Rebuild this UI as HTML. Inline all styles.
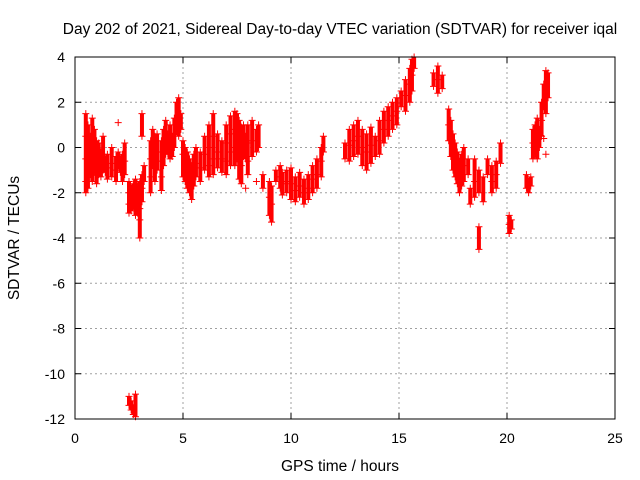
<!DOCTYPE html>
<html><head><meta charset="utf-8">
<style>
body{margin:0;background:#fff;}
svg{display:block;font-family:"Liberation Sans",sans-serif;}
</style></head>
<body>
<svg id="chart" width="640" height="480">
<rect width="640" height="480" fill="#fff"/>
<text x="340" y="34" font-size="15.5" text-anchor="middle">Day 202 of 2021, Sidereal Day-to-day VTEC variation (SDTVAR) for receiver iqal</text>
<text x="340" y="471" font-size="15.5" text-anchor="middle">GPS time / hours</text>
<text transform="translate(19,238) rotate(-90)" font-size="15.5" text-anchor="middle">SDTVAR / TECUs</text>
<g id="grid"></g>
<g id="marks"></g>
<rect x="75" y="57" width="540" height="362" fill="none" stroke="#000" stroke-width="1"/>
</svg>
<script>
const xTicks=[0,5,10,15,20,25];
const yTicks=[4,2,0,-2,-4,-6,-8,-10,-12];
const times=[0.5,0.6,0.7,0.8,0.9,1.0,1.1,1.2,1.3,1.4,1.5,1.7,1.9,2.0,2.1,2.2,2.3,2.5,2.6,2.7,2.8,2.9,3.0,3.1,3.2,3.5,3.6,3.7,3.8,4.0,4.1,4.2,4.3,4.4,4.5,4.6,4.7,4.8,4.9,5.0,5.1,5.2,5.3,5.4,5.5,5.6,5.8,6.0,6.2,6.4,6.6,6.8,7.0,7.2,7.4,7.5,7.6,7.7,7.8,7.9,8.0,8.2,8.4,8.5,8.7,9.0,9.1,9.3,9.5,9.6,9.8,10.0,10.2,10.4,10.6,10.8,11.0,11.2,11.4,11.5,12.5,12.7,12.9,13.1,13.3,13.5,13.7,13.9,14.1,14.3,14.5,14.7,14.9,15.1,15.3,15.5,15.6,15.7,16.6,16.8,17.0,17.3,17.4,17.5,17.6,17.7,17.8,17.9,18.0,18.2,18.3,18.5,18.7,18.9,19.1,19.3,19.5,19.7,20.1,20.2,20.9,21.0,21.1,21.2,21.3,21.4,21.5,21.6,21.7,21.8,21.9];
const values=[[1.5,0.5,-0.5,-1.5,-2],[1,0,-1,-1.8],[0.5,-0.5,-1.2],[1.3,0.2,-0.8,-1.5],[0.8,-0.3,-1.1],[0.3,-0.6,-1.6],[0.2,-0.4,-1.2],[-0.2,-0.8,-1.3],[0.5,-0.3,-1],[-0.5,-1.1],[-0.3,-0.9,-1.4],[0,-0.7,-1.3],[-0.4,-1,-1.5],[1.1,-0.2,-0.8],[-0.5,-1.1],[-0.3,-0.9,-1.5],[0.2,-0.6,-1.2],[-1.5,-2,-2.5,-2.9,-11,-11.4],[-1.8,-2.3,-2.8,-11.2,-11.6],[-1.6,-2.2,-2.6,-11.5,-11.8],[-1.4,-2,-2.5,-3,-10.9,-11.9],[-1.7,-2.4,-2.9],[-1.5,-2.1,-2.7,-3.2,-4],[1.5,0.5,-1.2,-1.8,-2.4],[-0.8,-1.5],[0.3,-0.5,-1.3,-2],[0.8,0,-0.8],[0.5,-0.3,-1.5],[0.6,-0.2,-1],[0.3,-0.6,-1.3,-1.9],[0.8,0,-0.8],[1.2,0.4,-0.3],[0.6,-0.3],[1,0.2,-0.5],[0.5,-0.4],[1.3,0.6,0],[2,1.2,0.7],[2.2,1.4,0.5],[1.5,0.8],[0.3,-0.3,-1.3],[0,-0.7,-1.5],[-0.2,-1,-1.8],[-0.5,-1.3,-2],[-0.8,-1.6,-2.3],[-0.3,-1,-1.7],[0,-0.7,-1.3],[-0.2,-0.9,-1.5],[0.5,-0.3,-1],[1,0,-0.8,-1.3],[1.5,0.5,-0.5,-1.2],[0.6,-0.2,-0.9],[0.3,-0.5,-1.1],[1,0.2,-0.6,-1.2],[1.4,0.6,-0.2,-0.8],[1.6,0.8,0,-0.8],[1.5,0.5,-0.5],[1.2,0.2,-0.5,-1.4],[0.9,0,-0.8,-1.6],[1,0.3,-0.4],[0.5,-0.5,-1.8],[1,0.2,-0.6,-1.2],[1.2,0.3,-0.4],[0.8,-0.2,-1.5],[1,0],[-1.2,-1.8],[-1.5,-2.2,-3],[-1.7,-2.5,-3.3],[-1,-1.5],[-0.8,-1.3,-1.8],[-1.1,-1.6,-2.1],[-1,-1.5,-2],[-0.9,-1.6,-2.3],[-1.3,-1.9,-2.4],[-1.1,-1.7,-2.2],[-1.4,-2,-2.5],[-1.2,-1.8,-2.3],[-0.8,-1.4,-2],[-0.5,-1.2,-1.8],[0,-0.6,-1.3],[0.5,-0.2],[0.2,-0.5],[0.8,0.1,-0.6],[1,0.3,-0.4],[1.2,0.5,-0.3],[0.8,0,-0.8],[0.6,-0.2,-1],[0.9,0.1,-0.7],[0.5,-0.4],[1.2,0.3,-0.3],[1.6,0.8,0.2],[1.8,1.2,0.5],[2,1.4,0.8],[2.2,1.6,1],[2.5,1.8],[3,2.3,1.6],[3.5,2.8,2],[3.9,3.2,2.5],[4,3.5],[3.3,2.7],[3.6,3,2.4],[3.2,2.6],[1.7,1,0.3],[1.2,0.4,-0.4],[0.6,-0.2,-1],[0.2,-0.5,-1.3],[-0.2,-0.9,-1.6],[-0.6,-1.3,-2],[-0.3,-1,-1.7],[0,-0.8,-1.5],[-0.5,-1.2],[-1.8,-2.5],[-0.5,-1.5,-2.2],[-1,-2,-3.5,-4.5],[-1.3,-2.4],[-0.5,-1.2],[-0.8,-1.5,-2],[-0.6,-1.2,-1.8],[0.2,-0.7],[-3,-3.4,-3.8],[-3.2,-3.6],[-1.2,-1.8],[-1.5,-2],[-1.3,-1.7],[-0.5,0.2,0.8],[1,0.5,-0.3],[1.3,0.6,-0.5],[0.8,0],[2,1.2,0.5],[2.8,1.8,0.4],[3.4,2.5,1.5,-0.3],[3.3,2.2]];
const X0=75,X1=615,Y0=57,Y1=419;
function xs(t){return X0+(t-0)/(25-0)*(X1-X0);}
function ys(v){return Y0+(4-v)/(4-(-12))*(Y1-Y0);}
const NS="http://www.w3.org/2000/svg";
const grid=document.getElementById('grid'),marks=document.getElementById('marks');
function mk(tag,attrs,parent){const e=document.createElementNS(NS,tag);for(const k in attrs)e.setAttribute(k,attrs[k]);parent.appendChild(e);return e;}
xTicks.forEach(t=>{
  const x=xs(t);
  if(t>0&&t<25){const g=mk('line',{x1:x,x2:x,y1:Y0,y2:Y1,stroke:'#a0a0a0','stroke-dasharray':'2,3'},grid);
  
  }
  mk('line',{x1:x,x2:x,y1:Y1,y2:Y1-6,stroke:'#000'},grid);
  mk('line',{x1:x,x2:x,y1:Y0,y2:Y0+6,stroke:'#000'},grid);
  const l=mk('text',{x:x,y:Y1+24,'font-size':14,'text-anchor':'middle'},grid);l.textContent=t;
  
  
});
yTicks.forEach(v=>{
  const y=ys(v);
  if(v<4&&v>-12){const g=mk('line',{x1:X0,x2:X1,y1:y,y2:y,stroke:'#a0a0a0','stroke-dasharray':'2,3'},grid);
  
  }
  mk('line',{x1:X0,x2:X0+6,y1:y,y2:y,stroke:'#000'},grid);
  mk('line',{x1:X1,x2:X1-6,y1:y,y2:y,stroke:'#000'},grid);
  const l=mk('text',{x:X0-10,y:y+5,'font-size':14,'text-anchor':'end'},grid);l.textContent=v;
  
  
});
times.forEach((t,i)=>{
  const x=xs(t);const vs=values[i];
  for(let j=0;j<vs.length-1;j++){
    if(Math.abs(vs[j]-vs[j+1])<1.3){
      const b=mk('line',{x1:x,x2:x,y1:ys(vs[j]),y2:ys(vs[j+1]),stroke:'#ff0000','stroke-width':4},marks);
      
      
    }
  }
  vs.forEach(v=>{
    const y=ys(v);
    const p=mk('path',{d:`M${x-3.5},${y}h7M${x},${y-3.5}v7`,stroke:'#ff0000','stroke-width':1,fill:'none'},marks);
    
    
  });
});
</script>
</body></html>
